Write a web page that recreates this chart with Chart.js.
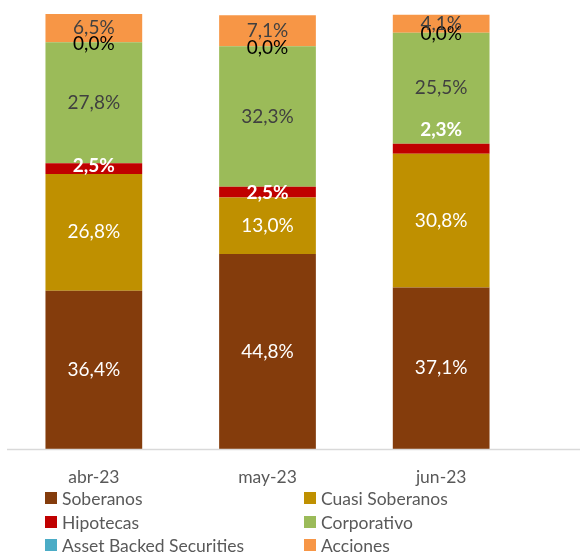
<!DOCTYPE html>
<html>
<head>
<meta charset="utf-8">
<script src="https://cdn.jsdelivr.net/npm/chart.js@4.4.1/dist/chart.umd.min.js"></script>
<style>
  html, body { margin: 0; padding: 0; background: #fff; }
  #wrap { width: 580px; height: 554px; position: relative; }
</style>
</head>
<body>
<div id="wrap"><canvas id="chart"></canvas></div>
<script>
const categories = ["abr-23", "may-23", "jun-23"];
const soberanos = [36.4, 44.8, 37.1];
const cuasiSoberanos = [26.8, 13.0, 30.8];
const hipotecas = [2.5, 2.5, 2.3];
const corporativo = [27.8, 32.3, 25.5];
const assetBacked = [0.0, 0.0, 0.0];
const acciones = [6.5, 7.1, 4.1];

const FONT = "Lato";

function pct(v) {
  return v.toFixed(1).replace(".", ",") + "%";
}

// label style per dataset
const labelStyles = [
  { color: "#ffffff", weight: "normal" },
  { color: "#ffffff", weight: "normal" },
  { color: "#ffffff", weight: "bold", shift: [-3, 1, -19] },
  { color: "#404040", weight: "normal" },
  { color: "#000000", weight: "normal", shift: [2, 2, 1] },
  { color: "#404040", weight: "normal" }
];

const barLabels = {
  id: "barLabels",
  afterDatasetsDraw(chart) {
    const ctx = chart.ctx;
    ctx.save();
    ctx.textAlign = "center";
    ctx.textBaseline = "middle";
    chart.data.datasets.forEach((ds, i) => {
      const meta = chart.getDatasetMeta(i);
      const st = labelStyles[i];
      ctx.fillStyle = st.color;
      ctx.font = st.weight + " 19px " + FONT;
      meta.data.forEach((bar, j) => {
        const y = (bar.y + bar.base) / 2 + (st.shift ? st.shift[j] : 0);
        ctx.fillText(pct(ds.data[j]), bar.x, y);
      });
    });
    ctx.restore();
  }
};

// x axis line + two-column legend
const extras = {
  id: "extras",
  afterDraw(chart) {
    const ctx = chart.ctx;
    const area = chart.chartArea;
    ctx.save();
    ctx.strokeStyle = "#d9d9d9";
    ctx.lineWidth = 1.5;
    ctx.beginPath();
    ctx.moveTo(7, area.bottom + 0.5);
    ctx.lineTo(chart.width, area.bottom + 0.5);
    ctx.stroke();

    const cols = [45, 304];
    const rows = [498, 522, 545];
    ctx.font = "17.5px " + FONT;
    ctx.textBaseline = "middle";
    ctx.textAlign = "left";
    chart.data.datasets.forEach((ds, i) => {
      const x = cols[i % 2];
      const y = rows[Math.floor(i / 2)];
      ctx.fillStyle = ds.backgroundColor;
      ctx.fillRect(x, y - 6, 12, 12);
      ctx.fillStyle = "#595959";
      ctx.fillText(ds.label, x + 17, y + 1);
    });
    ctx.restore();
  }
};

function series(label, data, color) {
  return { label: label, data: data, backgroundColor: color, borderWidth: 0 };
}

new Chart(document.getElementById("chart"), {
  type: "bar",
  data: {
    labels: categories,
    datasets: [
      series("Soberanos", soberanos, "#843c0c"),
      series("Cuasi Soberanos", cuasiSoberanos, "#bf9000"),
      series("Hipotecas", hipotecas, "#c00000"),
      series("Corporativo", corporativo, "#9bbb59"),
      series("Asset Backed Securities", assetBacked, "#4bacc6"),
      series("Acciones", acciones, "#f79646")
    ]
  },
  options: {
    responsive: true,
    maintainAspectRatio: false,
    animation: false,
    layout: { padding: { left: 7, right: 52, top: 14, bottom: 56 } },
    datasets: { bar: { barPercentage: 1, categoryPercentage: 0.557 } },
    plugins: {
      legend: { display: false },
      tooltip: { enabled: false }
    },
    scales: {
      x: {
        stacked: true,
        grid: { display: false },
        border: { display: false },
        ticks: { color: "#595959", font: { family: FONT, size: 17.5 }, padding: 10 }
      },
      y: {
        stacked: true,
        display: false,
        min: 0,
        max: 100
      }
    }
  },
  plugins: [barLabels, extras]
});
</script>
</body>
</html>
